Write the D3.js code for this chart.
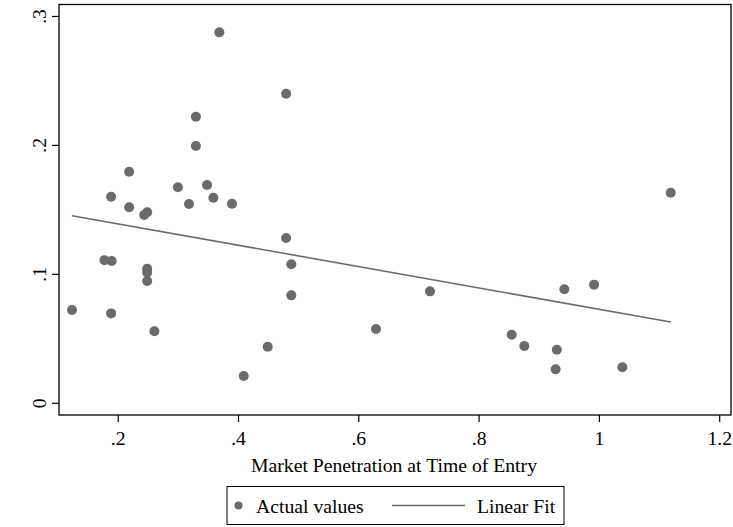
<!DOCTYPE html>
<html>
<head>
<meta charset="utf-8">
<script src="https://cdn.jsdelivr.net/npm/d3@7"></script>
<style>
  html, body { margin: 0; padding: 0; background: #fff; }
  svg { display: block; font-family: "Liberation Serif", "Times New Roman", serif; }
</style>
</head>
<body>
<svg id="chart" width="733" height="527"></svg>
<script>
// market penetration at entry (x) vs outcome (y)
const penetration = [0.124, 0.178, 0.190, 0.189, 0.249, 0.249, 0.249, 0.261, 0.4095,
  0.189, 0.219, 0.219, 0.244, 0.249, 0.300, 0.3185, 0.330, 0.330, 0.3485, 0.359,
  0.390, 0.369, 0.480, 0.480, 0.4886, 0.4886, 0.4494, 0.6294, 0.7192,
  0.855, 0.876, 0.930, 0.928, 0.9425, 0.992, 1.039, 1.1194];
const actual = [0.072, 0.1106, 0.110, 0.0693, 0.104, 0.101, 0.0944, 0.0554, 0.0207,
  0.1598, 0.1792, 0.1516, 0.1456, 0.1477, 0.1671, 0.1541, 0.2219, 0.1991, 0.1689, 0.159,
  0.1544, 0.2873, 0.2397, 0.1278, 0.1074, 0.0833, 0.0434, 0.0572, 0.0864,
  0.0528, 0.044, 0.0411, 0.0259, 0.088, 0.0916, 0.0275, 0.1629];

// fitted line end points
const fitX = [0.124, 1.1194];
const fitY = [0.1451, 0.0626];

const xTicks = [0.2, 0.4, 0.6, 0.8, 1, 1.2];
const xTickLabels = [".2", ".4", ".6", ".8", "1", "1.2"];
const yTicks = [0, 0.1, 0.2, 0.3];
const yTickLabels = ["0", ".1", ".2", ".3"];
const legendLabels = ["Actual values", "Linear Fit"];

const grey = "#6b6b6b";
const fs = 19.7;
const svg = d3.select("#chart");

const pLeft = 59, pRight = 731, pTop = 4.5, pBottom = 415;
const x = d3.scaleLinear().domain([0.1024, 1.2196]).range([pLeft, pRight]);
const y = d3.scaleLinear().domain([-0.0095, 0.3089]).range([pBottom, pTop]);

// plot frame
svg.append("rect")
  .attr("x", pLeft).attr("y", pTop)
  .attr("width", pRight - pLeft).attr("height", pBottom - pTop)
  .attr("fill", "none").attr("stroke", "#000").attr("stroke-width", 1.3);

// x axis
const xAxis = svg.append("g")
  .attr("transform", `translate(0,${pBottom})`)
  .call(d3.axisBottom(x).tickValues(xTicks)
    .tickFormat((d, i) => xTickLabels[i]).tickSize(7).tickPadding(9).tickSizeOuter(0));
xAxis.select(".domain").remove();
xAxis.selectAll("line").attr("stroke", "#000").attr("stroke-width", 1.2);
xAxis.selectAll("text").attr("fill", "#000").attr("font-size", fs)
  .attr("font-family", "Liberation Serif, serif");

// y axis, labels turned upright
const yAxis = svg.append("g")
  .attr("transform", `translate(${pLeft},0)`)
  .call(d3.axisLeft(y).tickValues(yTicks)
    .tickFormat((d, i) => yTickLabels[i]).tickSize(7).tickSizeOuter(0));
yAxis.select(".domain").remove();
yAxis.selectAll("line").attr("stroke", "#000").attr("stroke-width", 1.2);
yAxis.selectAll("text")
  .attr("fill", "#000").attr("font-size", fs)
  .attr("font-family", "Liberation Serif, serif")
  .attr("x", null).attr("dy", null)
  .attr("text-anchor", "middle")
  .attr("transform", "translate(-13,0) rotate(-90)");

// x title
svg.append("text")
  .attr("x", (pLeft + pRight) / 2 - 1).attr("y", 472)
  .attr("text-anchor", "middle").attr("font-size", fs)
  .text("Market Penetration at Time of Entry");

// linear fit
svg.append("line")
  .attr("x1", x(fitX[0])).attr("y1", y(fitY[0]))
  .attr("x2", x(fitX[1])).attr("y2", y(fitY[1]))
  .attr("stroke", grey).attr("stroke-width", 1.6);

// points
svg.append("g").selectAll("circle")
  .data(penetration.map((d, i) => [d, actual[i]]))
  .join("circle")
  .attr("cx", d => x(d[0])).attr("cy", d => y(d[1]))
  .attr("r", 5).attr("fill", grey);

// legend
const lg = svg.append("g");
lg.append("rect").attr("x", 227).attr("y", 486.5).attr("width", 337).attr("height", 38)
  .attr("fill", "#fff").attr("stroke", "#000").attr("stroke-width", 1);
lg.append("circle").attr("cx", 238.5).attr("cy", 505.5).attr("r", 4).attr("fill", grey);
lg.append("text").attr("x", 256).attr("y", 512.5).attr("font-size", fs).text(legendLabels[0]);
lg.append("line").attr("x1", 392).attr("x2", 465).attr("y1", 505.5).attr("y2", 505.5)
  .attr("stroke", grey).attr("stroke-width", 1.6);
lg.append("text").attr("x", 477).attr("y", 512.5).attr("font-size", fs).text(legendLabels[1]);
</script>
</body>
</html>
